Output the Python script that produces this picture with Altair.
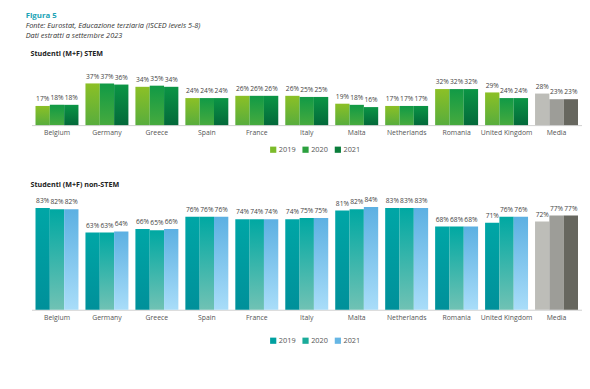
import altair as alt
import pandas as pd

countries = ["Belgium", "Germany", "Greece", "Spain", "France", "Italy", "Malta",
             "Netherlands", "Romania", "United Kingdom", "Media"]
years = ["2019", "2020", "2021"]

stem_2019 = [17, 37, 34, 24, 26, 26, 19, 17, 32, 29, 28]
stem_2020 = [18, 37, 35, 24, 26, 25, 18, 17, 32, 24, 23]
stem_2021 = [18, 36, 34, 24, 26, 25, 16, 17, 32, 24, 23]

non_2019 = [83, 63, 66, 76, 74, 74, 81, 83, 68, 71, 72]
non_2020 = [82, 63, 65, 76, 74, 75, 82, 83, 68, 76, 77]
non_2021 = [82, 64, 66, 76, 74, 75, 84, 83, 68, 76, 77]

FONT = "Open Sans"


def make_df(series):
    rows = []
    for y, vals in zip(years, series):
        for c, v in zip(countries, vals):
            rows.append({"country": c, "year": y, "value": v})
    return pd.DataFrame(rows)


def grad(top, bottom):
    return {"gradient": "linear", "x1": 0, "y1": 0, "x2": 0, "y2": 1,
            "stops": [{"offset": 0, "color": top}, {"offset": 1, "color": bottom}]}


grey = {"2019": "#bdbdb8", "2020": "#9d9d98", "2021": "#67675f"}


def panel(df, title, grads, legend_colors, ymax, h, legend_y, title_offset):
    conds = []
    for y in years:
        conds.append({"test": f"datum.country === 'Media' && datum.year === '{y}'",
                      "value": grey[y]})
    for y in years:
        conds.append({"test": f"datum.year === '{y}'", "value": grads[y]})
    base = alt.Chart(df).encode(
        x=alt.X("country:N", sort=countries, title=None,
                scale=alt.Scale(paddingInner=0.14, paddingOuter=0.08),
                axis=alt.Axis(labelAngle=0, ticks=False, labelFontSize=7,
                              labelColor="#555", labelFont=FONT, labelPadding=4,
                              domainColor="#cfcfcf", domainWidth=1)),
        xOffset=alt.XOffset("year:N", sort=years, scale=alt.Scale(paddingInner=0)),
        y=alt.Y("value:Q", axis=None, scale=alt.Scale(domain=[0, ymax])),
    )
    bars = base.mark_bar().encode(
        fill=alt.Fill("year:N", sort=years,
                      scale=alt.Scale(domain=years, range=legend_colors),
                      legend=alt.Legend(title=None, orient="none", direction="horizontal",
                                        legendX=243, legendY=legend_y,
                                        symbolType="square", symbolSize=40,
                                        symbolStrokeWidth=0,
                                        labelFontSize=7.5, labelColor="#555",
                                        labelFont=FONT, columnPadding=6,
                                        labelOffset=2),
                      condition=conds)
    )
    labels = base.mark_text(dy=-4, baseline="bottom", fontSize=6.8, color="#444",
                            font=FONT).transform_calculate(
        label="datum.value + '%'"
    ).encode(text="label:N")
    return alt.layer(bars, labels).properties(
        width=562, height=h,
        title=alt.TitleParams(title, anchor="start", fontSize=7.3, font=FONT,
                              fontWeight="bold", color="#222", dx=-1,
                              offset=title_offset)
    )


stem_grads = {"2019": grad("#8cc026", "#58ad3d"),
              "2020": grad("#119a46", "#46aa3e"),
              "2021": grad("#0b9545", "#03693a")}
stem_leg = ["#7cbb2a", "#2ba03e", "#0a7d3b"]

non_grads = {"2019": grad("#00a6a6", "#00909a"),
             "2020": grad("#00a8a2", "#70c2b4"),
             "2021": grad("#5cb0e2", "#a9ddf9")}
non_leg = ["#00a0a0", "#1aab9a", "#66b6e4"]

top = panel(make_df([stem_2019, stem_2020, stem_2021]), "Studenti (M+F) STEM",
            stem_grads, stem_leg, 40, 46, 67, 17)
bottom = panel(make_df([non_2019, non_2020, non_2021]), "Studenti (M+F) non-STEM",
               non_grads, non_leg, 90, 112.5, 140, 9)

chart = alt.vconcat(top, bottom, spacing=28).resolve_scale(
    fill="independent", y="independent", x="independent"
).properties(
    title=alt.TitleParams("Figura 5",
                          subtitle=["Fonte: Eurostat, Educazione terziaria (ISCED levels 5-8)",
                                    "Dati estratti a settembre 2023"],
                          anchor="start", fontSize=8, font=FONT, fontWeight="bold",
                          color="#1aa3b5", subtitleFont=FONT, subtitleFontSize=7.5,
                          subtitleFontStyle="italic", subtitleColor="#333",
                          subtitlePadding=2, subtitleLineHeight=10, dx=-5, dy=-2,
                          offset=9)
).configure(
    padding={"left": 18, "top": 0, "right": 0, "bottom": 0}
).configure_view(stroke=None)

chart.save("out.html", embed_options={"renderer": "svg", "actions": False})
